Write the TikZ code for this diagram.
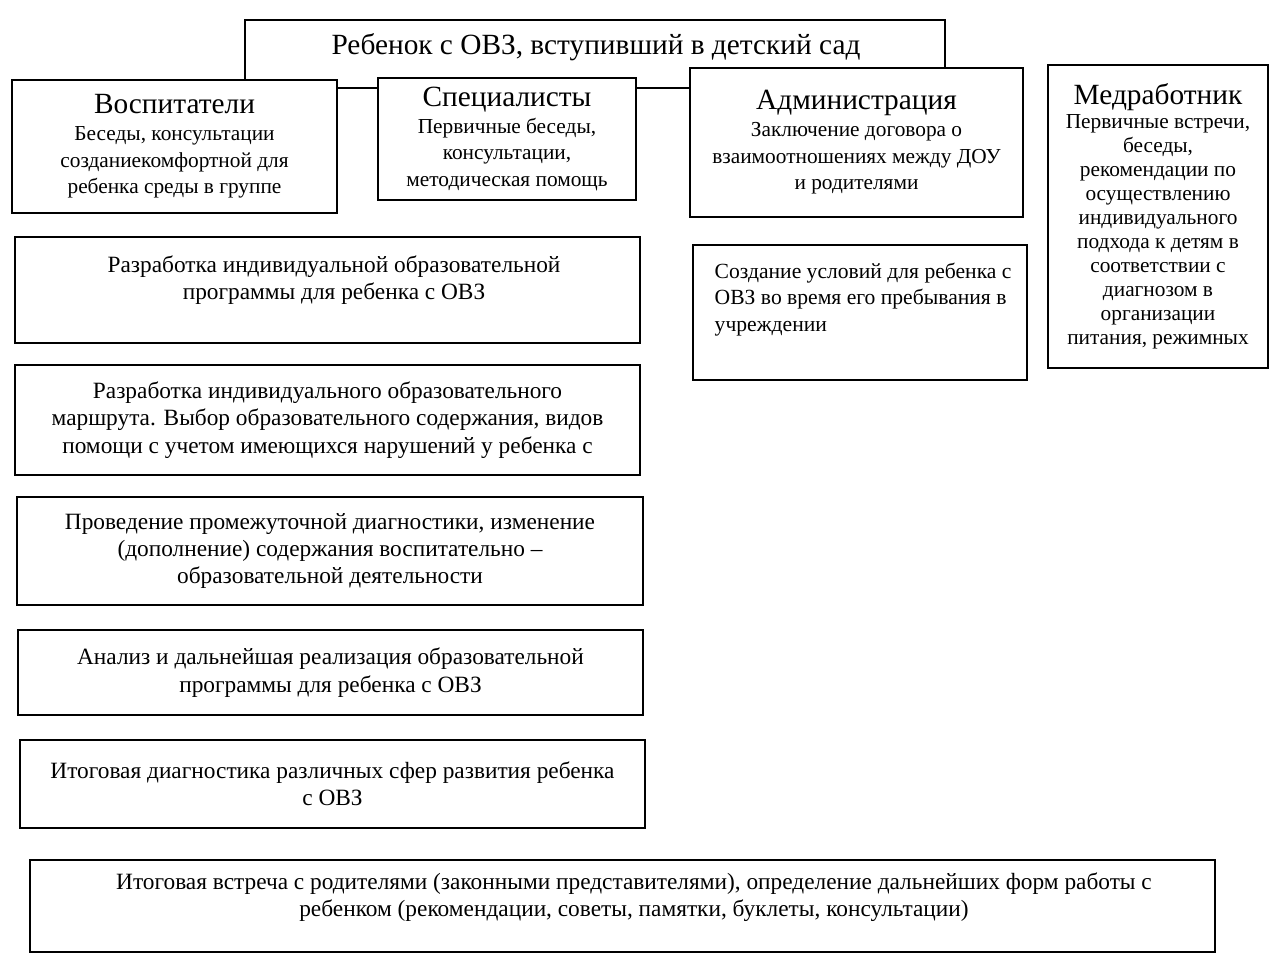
\documentclass[tikz,border=0pt]{standalone}
\usepackage{fontspec}
\setmainfont{Liberation Serif}
\tikzset{
    box/.style={draw, line width=1.4pt, fill=white, inner sep=0pt, align=center},
    sz/.style 2 args={minimum width=#1*0.75pt, minimum height=#2*0.75pt},
    small/.style={font=\fontsize{16}{20}\selectfont}
}

\begin{document}
\begin{tikzpicture}[x=0.75pt, y=-0.75pt,
    every node/.style={font=\fontsize{17.5}{20.5}\selectfont}]
    \useasboundingbox (0,0) rectangle (1271,957);

    % child box
    \node[box, sz={700}{68}] (kid) at (595,54) {};
    \node[font=\fontsize{22}{25}\selectfont] (kidtext) at (596,47) {Ребенок с ОВЗ, вступивший в детский сад};

    % staff
    \node[box, sz={325}{133}, small] (vosp) at (174.5,146.5)
        {{\fontsize{22}{27}\selectfont Воспитатели}\\Беседы, консультации\\созданиекомфортной для\\ребенка среды в группе};
    \node[box, sz={258}{122}, small] (spec) at (507,139)
        {{\fontsize{22}{30}\selectfont Специалисты}\\Первичные беседы,\\консультации,\\методическая помощь};
    \node[box, sz={333}{149}, small] (adm) at (856.5,142.5)
        {{\fontsize{22}{27}\selectfont Администрация}\\Заключение договора о\\взаимоотношениях между ДОУ\\и родителями};
    \node[box, sz={220}{303}, font=\fontsize{16}{18}\selectfont] (med) at (1158,216.5)
        {{\fontsize{22}{25}\selectfont Медработник}\\Первичные встречи,\\беседы,\\рекомендации по\\осуществлению\\индивидуального\\подхода к детям в\\соответствии с\\диагнозом в\\организации\\питания, режимных};

    % steps
    \node[box, sz={625}{106}] (prog) at (327.5,290) {};
    \node[align=center] (progtext) at (334,280)
        {Разработка индивидуальной образовательной\\программы для ребенка с ОВЗ};
    \node[box, sz={334}{135}] (usl) at (860,312.5) {};
    \node[align=left, anchor=north west, font=\fontsize{16.2}{20}\selectfont] (usltext) at (710,258)
        {Создание условий для ребенка с\\ОВЗ во время его пребывания в\\учреждении};
    \node[box, sz={625}{110}] (route) at (327.5,420)
        {Разработка индивидуального образовательного\\маршрута. Выбор образовательного содержания, видов\\помощи с учетом имеющихся нарушений у ребенка с};
    \node[box, sz={626}{108}] (diag) at (330,551)
        {Проведение промежуточной диагностики, изменение\\(дополнение) содержания воспитательно –\\образовательной деятельности};
    \node[box, sz={625}{85}] (anal) at (330.5,672.5)
        {Анализ и дальнейшая реализация образовательной\\программы для ребенка с ОВЗ};
    \node[box, sz={625}{88}] (final) at (332.5,784)
        {Итоговая диагностика различных сфер развития ребенка\\с ОВЗ};

    % meeting
    \node[box, sz={1185}{92}] (meet) at (622.5,906) {};
    \node[align=center] (meettext) at (634,897)
        {Итоговая встреча с родителями (законными представителями), определение дальнейших форм работы с\\ребенком (рекомендации, советы, памятки, буклеты, консультации)};
\end{tikzpicture}
\end{document}
